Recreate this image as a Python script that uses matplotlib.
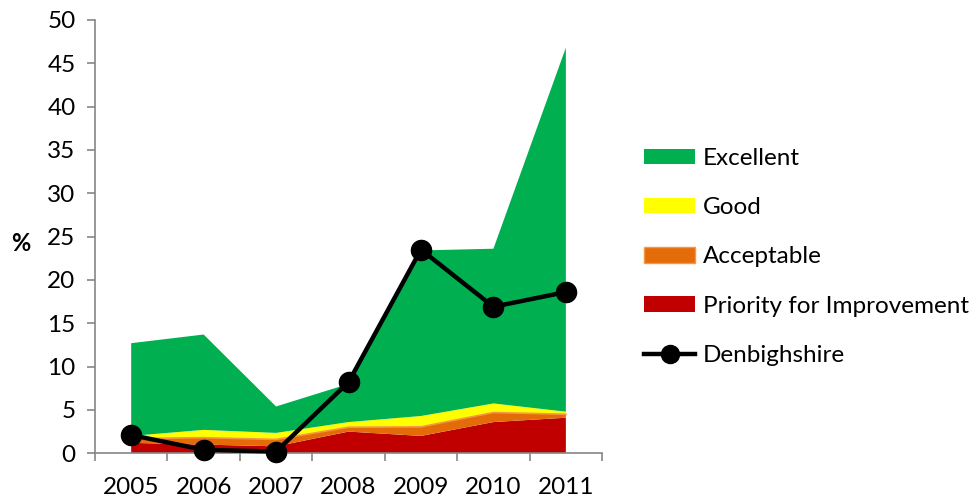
import numpy as np
import matplotlib.pyplot as plt
from matplotlib.patches import Patch
from matplotlib.lines import Line2D

plt.rcParams['font.family'] = ['Lato', 'DejaVu Sans']

years = [2005, 2006, 2007, 2008, 2009, 2010, 2011]
priority = [1.2, 1.0, 0.8, 2.5, 2.0, 3.6, 4.1]
acceptable = [0.5, 0.8, 0.8, 0.5, 1.05, 1.1, 0.4]
good = [0.3, 0.9, 0.75, 0.6, 1.25, 1.05, 0.3]
excellent = [10.7, 11.0, 3.05, 4.4, 19.1, 17.85, 42.0]
denbighshire = [2.1, 0.4, 0.2, 8.2, 23.5, 16.9, 18.6]

labels = ['Priority for Improvement', 'Acceptable', 'Good', 'Excellent']
colors = ['#C00000', '#E36C09', '#FFFF00', '#00B050']

fig = plt.figure(figsize=(9.79, 4.97), dpi=100)
ax = fig.add_axes([0.097, 0.088, 0.518, 0.872])

ax.stackplot(years, priority, acceptable, good, excellent, colors=colors, linewidth=0)
# light edge on the acceptable band
acc_top = np.array(priority) + np.array(acceptable)
ax.plot(years, acc_top, color='#F79646', linewidth=1.2)

ax.plot(years, denbighshire, color='black', linewidth=3.2, marker='o',
        markersize=14.5, zorder=5, clip_on=False)

ax.set_xlim(2004.5, 2011.5)
ax.set_ylim(0, 50)
ax.set_yticks(np.arange(0, 51, 5))
ax.set_xticks(np.arange(2004.5, 2012, 1))
ax.set_xticklabels([])
ax.set_xticks(years, minor=True)
ax.set_xticklabels([str(y) for y in years], minor=True)
ax.tick_params(axis='x', which='minor', length=0, pad=17, labelsize=17.5)
ax.tick_params(axis='x', which='major', length=6, color='#868686', width=1.2)
ax.tick_params(axis='y', length=6, color='#868686', width=1.2, labelsize=17.5, pad=8)

for s in ['top', 'right']:
    ax.spines[s].set_visible(False)
for s in ['left', 'bottom']:
    ax.spines[s].set_color('#868686')
    ax.spines[s].set_linewidth(1.2)

fig.text(0.021, 0.51, '%', fontsize=17, fontweight='bold', va='center', ha='center')

handles = [Patch(facecolor=colors[3]), Patch(facecolor=colors[2]),
           Patch(facecolor=colors[1], edgecolor='#F79646'), Patch(facecolor=colors[0]),
           Line2D([0], [0], color='black', linewidth=3.2, marker='o', markersize=13)]
leg_labels = ['Excellent', 'Good', 'Acceptable', 'Priority for Improvement', 'Denbighshire']
fig.legend(handles, leg_labels, loc='center left', bbox_to_anchor=(0.658, 0.483),
           frameon=False, fontsize=17.5, handlelength=2.1, handleheight=0.6,
           labelspacing=1.16, handletextpad=0.33, borderpad=0, borderaxespad=0)

fig.savefig('out.png', dpi=100)
